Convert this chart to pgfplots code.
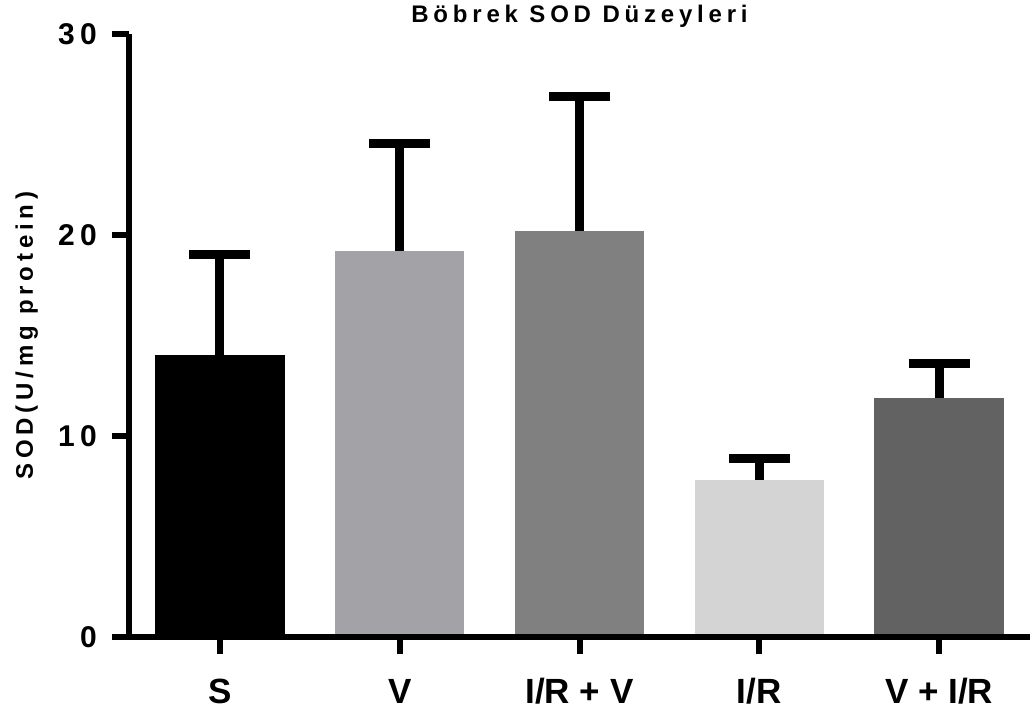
\documentclass[border=0pt]{standalone}
\usepackage{fontspec}
\setmainfont{Liberation Sans}
\newfontfamily\titlefont[LetterSpace=20]{Liberation Sans}
\newfontfamily\tickfont[LetterSpace=18]{Liberation Sans}
\usepackage{pgfplots}
\pgfplotsset{compat=1.18}
\definecolor{cV}{HTML}{A3A2A7}
\definecolor{cIRV}{HTML}{808080}
\definecolor{cIR}{HTML}{D4D4D4}
\definecolor{cVIR}{HTML}{626262}
\begin{document}
\begin{tikzpicture}
\useasboundingbox (-129pt,-75pt) rectangle (901pt,637pt);
\begin{axis}[
  scale only axis, width=901pt, height=602.5pt,
  xmin=-0.506, xmax=4.506, ymin=0, ymax=30,
  axis x line=bottom, axis y line=left,
  axis line style={-, line width=6pt, black},
  axis on top,
  xtick={0,1,2,3,4},
  xticklabels={S,V,I/R + V,I/R,V + I/R},
  ytick={0,10,20,30},
  tick align=outside, major tick length=17pt,
  tick style={line width=6pt, black},
  /pgf/number format/assume math mode=true,
  xticklabel style={font=\fontsize{35}{40}\selectfont\bfseries, inner sep=0pt, text height=25pt, text depth=0pt, anchor=north},
  yticklabel style={font=\tickfont\fontsize{30}{36}\selectfont\bfseries, inner sep=0pt, anchor=east},
  xticklabel shift=24pt,
  yticklabel shift=15pt,
  title={\titlefont\fontsize{24}{28}\selectfont\bfseries Böbrek SOD Düzeyleri},
  title style={at={(axis description cs:0.5,1)}, anchor=base, yshift=6pt, inner sep=0pt},
  ylabel={\titlefont\fontsize{24}{28}\selectfont\bfseries SOD(U/mg protein)},
  every axis y label/.style={at={(axis description cs:0,0.5)}, rotate=90, anchor=base, yshift=96pt, inner sep=0pt},
  error bars/error bar style={draw=black, line width=9pt},
  error bars/error mark options={draw=black, line width=9pt, mark size=30.5pt, rotate=90},
]
\addplot[ybar, bar width=0.72, bar shift=0pt, fill=black, draw=none,
  error bars/.cd, y dir=plus, y explicit]
  coordinates {(0,14.04) +- (0,5.01)};
\addplot[ybar, bar width=0.72, bar shift=0pt, fill=cV, draw=none,
  error bars/.cd, y dir=plus, y explicit]
  coordinates {(1,19.24) +- (0,5.31)};
\addplot[ybar, bar width=0.72, bar shift=0pt, fill=cIRV, draw=none,
  error bars/.cd, y dir=plus, y explicit]
  coordinates {(2,20.23) +- (0,6.67)};
\addplot[ybar, bar width=0.72, bar shift=0pt, fill=cIR, draw=none,
  error bars/.cd, y dir=plus, y explicit]
  coordinates {(3,7.82) +- (0,1.07)};
\addplot[ybar, bar width=0.72, bar shift=0pt, fill=cVIR, draw=none,
  error bars/.cd, y dir=plus, y explicit]
  coordinates {(4,11.89) +- (0,1.73)};
\end{axis}
\end{tikzpicture}
\end{document}
